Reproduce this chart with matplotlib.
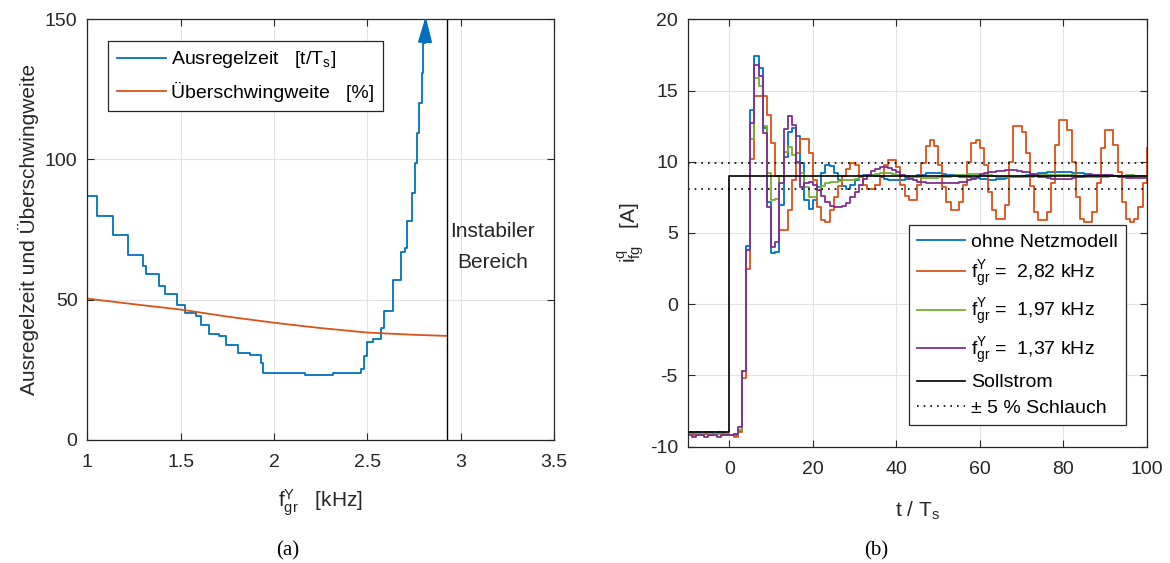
import numpy as np
import matplotlib
matplotlib.use('Agg')
import matplotlib.pyplot as plt

plt.rcParams['font.family'] = ['Liberation Sans', 'DejaVu Sans']
plt.rcParams['mathtext.fontset'] = 'custom'
plt.rcParams['mathtext.rm'] = 'Liberation Sans'
plt.rcParams['mathtext.it'] = 'Liberation Sans'
plt.rcParams['mathtext.bf'] = 'Liberation Sans:bold'
plt.rcParams['axes.unicode_minus'] = False

# ---- (a) settling time / overshoot vs. cutoff frequency ----
f_step = [1.000, 1.054, 1.136, 1.218, 1.297, 1.315, 1.382, 1.416, 1.479, 1.523,
          1.580, 1.607, 1.653, 1.705, 1.745, 1.805, 1.873, 1.930, 1.942, 2.166,
          2.318, 2.466, 2.482, 2.500, 2.532, 2.573, 2.587, 2.638, 2.680, 2.700,
          2.710, 2.742, 2.755, 2.764, 2.775, 2.793, 2.800, 2.809]
ausregelzeit = [87.1, 80.0, 73.0, 66.0, 62.0, 59.0, 55.0, 52.0, 48.1, 45.2,
                44.2, 41.0, 37.8, 37.1, 34.0, 30.9, 30.3, 27.3, 24.0, 23.1,
                24.0, 25.3, 30.0, 35.0, 36.0, 40.0, 46.0, 57.0, 67.0, 68.3,
                78.1, 88.2, 98.9, 109.6, 120.0, 130.9, 141.4, 141.4]
f_ueb = [1.0, 1.25, 1.5, 1.75, 2.0, 2.25, 2.5, 2.75, 2.928]
ueberschwing = [50.4, 48.4, 46.5, 44.0, 41.8, 39.9, 38.3, 37.5, 37.1]
f_instabil = 2.928

# ---- (b) step responses ----
t_k = np.arange(-10, 101)
i_ohne = [-9.0, -9.1, -9.0, -9.1, -9.1, -9.0, -9.1, -9.0, -9.1, -9.1,
          -9.2, -9.2, -8.9, -4.7, 4.1, 13.6, 17.4, 16.6, 12.4, 7.2,
          3.6, 3.7, 7.0, 10.3, 12.1, 12.4, 11.8, 9.9, 7.3, 6.7,
          7.3, 8.2, 9.2, 9.8, 9.7, 9.2, 8.7, 8.3, 8.1, 8.4,
          8.7, 8.9, 9.05, 9.1, 9.1, 9.0, 8.9, 8.8, 8.75, 8.75,
          8.75, 8.75, 8.8, 8.85, 8.95, 9.05, 9.1, 9.2, 9.2, 9.2,
          9.2, 9.15, 9.1, 9.05, 9.0, 8.95, 8.9, 8.9, 8.85, 8.85,
          8.8, 8.8, 8.75, 8.75, 8.8, 8.8, 8.85, 8.9, 8.9, 8.95,
          9.0, 9.05, 9.1, 9.15, 9.2, 9.2, 9.25, 9.25, 9.25, 9.25,
          9.25, 9.25, 9.2, 9.2, 9.2, 9.15, 9.15, 9.1, 9.1, 9.05,
          9.05, 9.0, 9.0, 9.0, 8.95, 8.95, 8.95, 9.0, 9.0, 9.0, 9.0]
i_282 = [-9.1, -9.2, -9.1, -9.2, -9.1, -9.2, -9.1, -9.1, -9.2, -9.2,
         -9.2, -9.3, -9.0, -5.2, 2.5, 10.2, 14.6, 14.6, 14.6, 13.3,
         11.3, 9.0, 5.2, 5.2, 6.6, 8.7, 10.6, 11.6, 11.6, 10.6,
         8.7, 6.8, 5.9, 5.8, 6.6, 7.5, 8.3, 9.0, 9.5, 9.9,
         9.8, 9.0, 8.4, 8.1, 8.1, 8.4, 9.0, 9.8, 10.1, 10.1,
         9.6, 8.4, 7.6, 7.3, 7.3, 8.4, 9.9, 11.1, 11.5, 11.1,
         9.8, 8.2, 7.2, 6.6, 6.6, 7.2, 8.4, 10.0, 11.3, 11.5,
         11.0, 9.8, 7.9, 6.6, 6.0, 6.0, 7.0, 10.0, 12.5, 12.5,
         12.1, 10.6, 8.3, 6.5, 5.9, 5.9, 6.5, 8.5, 11.2, 12.9,
         12.9, 12.2, 10.0, 7.5, 6.0, 5.8, 5.8, 6.5, 8.5, 11.0,
         12.2, 12.2, 11.2, 9.3, 7.2, 6.0, 5.8, 6.0, 6.8, 8.5, 11.0]
i_197 = [-9.1, -9.0, -9.1, -9.1, -9.0, -9.1, -9.1, -9.1, -9.0, -9.1,
         -9.2, -9.1, -8.8, -4.7, 3.8, 11.6, 15.9, 15.3, 12.5, 9.2,
         7.3, 7.4, 9.0, 10.7, 11.05, 10.5, 9.9, 9.2, 8.2, 7.5,
         7.5, 8.0, 8.3, 8.5, 8.6, 8.6, 8.65, 8.7, 8.7, 8.75,
         8.8, 8.9, 9.0, 9.05, 9.1, 9.15, 9.2, 9.2, 9.2, 9.15,
         9.1, 9.05, 9.0, 8.95, 8.9, 8.9, 8.85, 8.85, 8.85, 8.85,
         8.9, 8.9, 8.95, 9.0, 9.05, 9.1, 9.1, 9.15, 9.15, 9.15,
         9.1, 9.1, 9.05, 9.0, 8.95, 8.95, 8.9, 8.9, 8.9, 8.9,
         8.9, 8.95, 8.95, 9.0, 9.05, 9.05, 9.1, 9.1, 9.1, 9.1,
         9.1, 9.05, 9.05, 9.0, 9.0, 8.95, 8.95, 8.95, 8.95, 8.95,
         8.95, 9.0, 9.0, 9.0, 9.0, 9.05, 9.05, 9.0, 9.0, 9.0, 9.0]
i_137 = [-9.2, -9.3, -9.2, -9.2, -9.3, -9.2, -9.2, -9.3, -9.2, -9.2,
         -9.2, -9.1, -8.6, -4.7, 3.8, 12.7, 16.8, 16.0, 12.0, 6.8,
         4.0, 4.4, 8.5, 12.3, 13.2, 12.6, 10.0, 8.2, 8.5, 8.6,
         8.4, 8.0, 7.6, 7.2, 6.9, 6.8, 6.8, 6.9, 7.1, 7.5,
         7.9, 8.4, 8.8, 9.1, 9.35, 9.5, 9.6, 9.6, 9.55, 9.4,
         9.25, 9.1, 8.95, 8.8, 8.7, 8.6, 8.55, 8.5, 8.5, 8.5,
         8.5, 8.5, 8.5, 8.5, 8.5, 8.55, 8.6, 8.7, 8.8, 8.95,
         9.15, 9.2, 9.25, 9.3, 9.35, 9.35, 9.4, 9.4, 9.4, 9.35,
         9.3, 9.25, 9.15, 9.05, 8.95, 8.9, 8.85, 8.8, 8.8, 8.8,
         8.8, 8.8, 8.85, 8.9, 8.95, 9.0, 9.05, 9.1, 9.1, 9.1,
         9.1, 9.05, 9.0, 8.95, 8.9, 8.85, 8.85, 8.85, 8.85, 8.85, 8.85]
t_soll = [-10, 0, 100]
i_soll = [-9.0, 9.0, 9.0]
schlauch = [9.9, 8.1]

c_blue = '#0072BD'
c_orange = '#D95319'
c_green = '#77AC30'
c_purple = '#7E2F8E'
c_axis = '#262626'
c_grid = '#E3E3E3'

fig = plt.figure(figsize=(11.7, 5.63), dpi=100)
ax1 = fig.add_axes([0.0746, 0.2185, 0.3989, 0.7473])
ax2 = fig.add_axes([0.5877, 0.2066, 0.3924, 0.7591])


def style(ax):
    ax.grid(True, color=c_grid, linewidth=0.8)
    ax.set_axisbelow(True)
    for s in ax.spines.values():
        s.set_color(c_axis)
        s.set_linewidth(0.9)
    ax.tick_params(direction='in', top=True, right=True, length=5,
                   labelsize=14, colors=c_axis)
    ax.tick_params(axis='x', pad=10)
    ax.tick_params(axis='y', pad=7)


# (a)
style(ax1)
l1, = ax1.step(f_step, ausregelzeit, where='post', color=c_blue, lw=1.3,
               label=r'Ausregelzeit   [t/$\mathregular{T_s}$]')
l2, = ax1.plot(f_ueb, ueberschwing, color=c_orange, lw=1.3,
               label=u'Überschwingweite   [%]')
ax1.annotate('', xy=(f_step[-1] + 0.004, 152.0), xytext=(f_step[-1], ausregelzeit[-1]),
             arrowprops=dict(arrowstyle='-|>,head_length=0.8,head_width=0.22',
                             color=c_blue, lw=1.3, mutation_scale=20),
             annotation_clip=False)
ax1.axvline(f_instabil, color='k', lw=1.0)
ax1.text(3.17, 68.8, 'Instabiler\nBereich', ha='center', va='center',
         fontsize=15, color=c_axis, linespacing=1.75)
ax1.set_xlim(1, 3.5)
ax1.set_ylim(0, 150)
ax1.set_xticks([1, 1.5, 2, 2.5, 3, 3.5])
ax1.set_xticklabels(['1', '1.5', '2', '2.5', '3', '3.5'])
ax1.set_yticks([0, 50, 100, 150])
ax1.set_xlabel(r'$\mathregular{f_{gr}^{Y}}$   [kHz]', fontsize=15, color=c_axis, labelpad=12)
ax1.set_ylabel(u'Ausregelzeit und Überschwingweite', fontsize=15, color=c_axis, labelpad=4)
leg1 = ax1.legend(handles=[l1, l2], loc='upper left', bbox_to_anchor=(0.045, 0.949),
                  fontsize=14, frameon=True, fancybox=False, framealpha=1,
                  handlelength=2.5, handletextpad=0.3, borderpad=0.45,
                  labelspacing=0.6, borderaxespad=0)
leg1.get_frame().set_edgecolor(c_axis)
leg1.get_frame().set_linewidth(0.9)

# (b)
style(ax2)
h1, = ax2.step(t_k, i_ohne, where='post', color=c_blue, lw=1.3, label='ohne Netzmodell')
h2, = ax2.step(t_k, i_282, where='post', color=c_orange, lw=1.3,
               label=r'$\mathregular{f_{gr}^{Y}}$ =  2,82 kHz')
h3, = ax2.step(t_k, i_197, where='post', color=c_green, lw=1.3,
               label=r'$\mathregular{f_{gr}^{Y}}$ =  1,97 kHz')
h4, = ax2.step(t_k, i_137, where='post', color=c_purple, lw=1.3,
               label=r'$\mathregular{f_{gr}^{Y}}$ =  1,37 kHz')
h5, = ax2.step(t_soll, i_soll, where='post', color='k', lw=1.2, label='Sollstrom')
h6 = None
for v in schlauch:
    h6, = ax2.plot([-10, 100], [v, v], color='k', lw=1.2, ls=(0, (1, 3)),
                   label=u'± 5 % Schlauch')
ax2.set_xlim(-10, 100)
ax2.set_ylim(-10, 20)
ax2.set_xticks([0, 20, 40, 60, 80, 100])
ax2.set_yticks([-10, -5, 0, 5, 10, 15, 20])
ax2.set_xlabel(r't / $\mathregular{T_s}$', fontsize=15, color=c_axis, labelpad=16)
ax2.set_ylabel(r'$\mathregular{i_{fg}^{q}}$   [A]', fontsize=15, color=c_axis, labelpad=2)
leg2 = ax2.legend(handles=[h1, h2, h3, h4, h5, h6], loc='lower right',
                  bbox_to_anchor=(0.954, 0.051), fontsize=14, frameon=True,
                  fancybox=False, framealpha=1, handlelength=2.5,
                  handletextpad=0.3, borderpad=0.4, labelspacing=0.42,
                  borderaxespad=0)
leg2.get_frame().set_edgecolor(c_axis)
leg2.get_frame().set_linewidth(0.9)

fig.text(288 / 1170, 1 - 551 / 563, '(a)', family='Liberation Serif', fontsize=15,
         ha='center', va='center')
fig.text(876 / 1170, 1 - 551 / 563, '(b)', family='Liberation Serif', fontsize=15,
         ha='center', va='center')

fig.savefig('out.png', dpi=100)
